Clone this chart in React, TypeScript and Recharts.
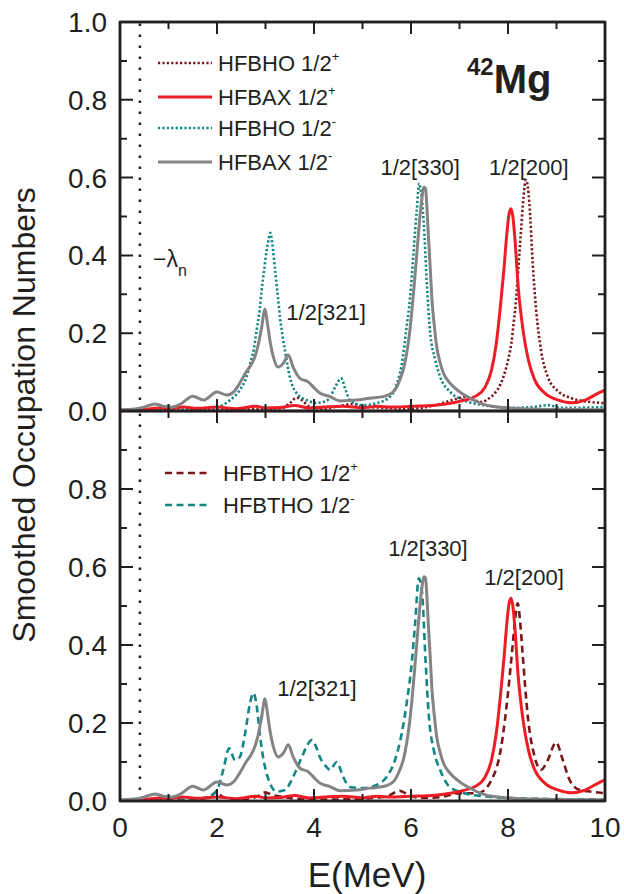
import React from 'react';
import { LineChart, Line, XAxis, YAxis, ReferenceLine, ReferenceDot, Legend } from 'recharts';

const FONT = '"Liberation Sans", Arial, Helvetica, sans-serif';
const INK = '#231f20';
const W = 624;
const H = 894;

const COLORS = { darkRed: '#7a171b', teal: '#128585', red: '#ee1d25', gray: '#848484' };

// ---------- axes / ticks ----------
const xTicks = [0, 1, 2, 3, 4, 5, 6, 7, 8, 9, 10];
const yTicksTop = [0, 0.1, 0.2, 0.3, 0.4, 0.5, 0.6, 0.7, 0.8, 0.9, 1.0];
const yTicksBottom = [0, 0.1, 0.2, 0.3, 0.4, 0.5, 0.6, 0.7, 0.8, 0.9];
const yInnerTicks = [0.1, 0.2, 0.3, 0.4, 0.5, 0.6, 0.7, 0.8, 0.9];
const xInnerTicks = [1, 2, 3, 4, 5, 6, 7, 8, 9];
const LAMBDA_N = 0.41;

// ---------- data ----------
// HFBAX 1/2- (gray solid, both panels)
const axMinusE = [0, 0.3, 0.5, 0.72, 0.9, 1.05, 1.25, 1.5, 1.72, 2.0, 2.2, 2.35, 2.47, 2.6, 2.7, 2.78, 2.85, 2.92, 2.99, 3.04, 3.1, 3.16, 3.26, 3.37, 3.47, 3.57, 3.71, 3.88, 4.0, 4.12, 4.33, 4.54, 4.88, 5.15, 5.43, 5.64, 5.77, 5.85, 5.91, 5.97, 6.02, 6.07, 6.12, 6.17, 6.22, 6.27, 6.3, 6.33, 6.36, 6.4, 6.43, 6.48, 6.53, 6.6, 6.67, 6.78, 6.88, 7.05, 7.22, 7.5, 8.0, 9.0, 10.0];
const axMinusV = [0.003, 0.005, 0.01, 0.018, 0.012, 0.01, 0.018, 0.038, 0.028, 0.049, 0.041, 0.05, 0.072, 0.1, 0.118, 0.139, 0.17, 0.215, 0.262, 0.225, 0.175, 0.14, 0.113, 0.123, 0.144, 0.113, 0.084, 0.075, 0.06, 0.046, 0.037, 0.026, 0.028, 0.033, 0.037, 0.05, 0.08, 0.11, 0.148, 0.2, 0.26, 0.33, 0.405, 0.48, 0.542, 0.575, 0.572, 0.52, 0.447, 0.36, 0.29, 0.22, 0.165, 0.125, 0.097, 0.075, 0.062, 0.045, 0.033, 0.017, 0.008, 0.004, 0.003];

// HFBAX 1/2+ (red solid, both panels)
const axPlusE = [0, 0.5, 0.8, 1.0, 1.3, 1.6, 2.0, 2.4, 2.8, 3.0, 3.3, 3.6, 3.9, 4.2, 4.6, 5.0, 5.3, 5.6, 6.0, 6.5, 6.9, 7.11, 7.32, 7.53, 7.66, 7.76, 7.86, 7.92, 7.97, 8.02, 8.06, 8.1, 8.14, 8.21, 8.31, 8.42, 8.55, 8.76, 9.04, 9.31, 9.59, 9.86, 10.0];
const axPlusV = [0.002, 0.004, 0.008, 0.006, 0.01, 0.007, 0.01, 0.006, 0.012, 0.008, 0.009, 0.014, 0.008, 0.01, 0.012, 0.008, 0.012, 0.01, 0.012, 0.015, 0.022, 0.028, 0.037, 0.062, 0.105, 0.175, 0.29, 0.37, 0.447, 0.505, 0.52, 0.5, 0.447, 0.32, 0.208, 0.131, 0.08, 0.046, 0.028, 0.021, 0.028, 0.046, 0.054];

// HFBHO 1/2- (teal dotted, top)
const hoMinusE = [0, 1.0, 1.5, 2.0, 2.27, 2.47, 2.6, 2.68, 2.76, 2.82, 2.88, 2.92, 2.97, 3.02, 3.07, 3.1, 3.14, 3.2, 3.25, 3.3, 3.35, 3.4, 3.5, 3.64, 3.85, 4.05, 4.26, 4.33, 4.45, 4.56, 4.65, 4.74, 5.02, 5.29, 5.57, 5.71, 5.81, 5.91, 5.98, 6.05, 6.12, 6.17, 6.21, 6.26, 6.33, 6.39, 6.5, 6.6, 6.8, 7.08, 7.5, 8.0, 8.5, 8.82, 9.1, 10.0];
const hoMinusV = [0.002, 0.004, 0.006, 0.01, 0.028, 0.054, 0.085, 0.12, 0.16, 0.21, 0.26, 0.31, 0.36, 0.41, 0.445, 0.458, 0.43, 0.36, 0.3, 0.24, 0.195, 0.157, 0.088, 0.046, 0.028, 0.021, 0.026, 0.036, 0.065, 0.084, 0.055, 0.028, 0.015, 0.02, 0.037, 0.07, 0.12, 0.217, 0.29, 0.405, 0.517, 0.585, 0.56, 0.49, 0.32, 0.208, 0.131, 0.088, 0.05, 0.028, 0.015, 0.008, 0.01, 0.015, 0.008, 0.01];

// HFBHO 1/2+ (dark red dotted, top)
const hoPlusE = [0, 2.0, 3.0, 3.35, 3.5, 3.64, 3.75, 3.9, 4.2, 4.5, 4.8, 5.0, 5.5, 6.0, 6.5, 6.9, 7.11, 7.3, 7.46, 7.6, 7.73, 7.85, 7.93, 8.0, 8.07, 8.12, 8.17, 8.22, 8.27, 8.32, 8.37, 8.41, 8.44, 8.51, 8.58, 8.68, 8.82, 9.04, 9.31, 9.72, 10.0];
const hoPlusV = [0.001, 0.003, 0.005, 0.008, 0.02, 0.034, 0.028, 0.012, 0.006, 0.012, 0.018, 0.012, 0.008, 0.006, 0.015, 0.03, 0.036, 0.028, 0.023, 0.032, 0.046, 0.07, 0.097, 0.13, 0.175, 0.23, 0.29, 0.38, 0.465, 0.55, 0.594, 0.575, 0.535, 0.38, 0.26, 0.157, 0.088, 0.05, 0.033, 0.023, 0.02];

// HFBTHO 1/2- (teal dashed, bottom)
const thoMinusE = [0, 1.0, 1.5, 1.8, 2.0, 2.13, 2.25, 2.37, 2.47, 2.58, 2.68, 2.75, 2.82, 2.89, 2.99, 3.09, 3.23, 3.4, 3.57, 3.75, 3.87, 3.95, 4.04, 4.12, 4.26, 4.33, 4.47, 4.6, 4.74, 5.02, 5.29, 5.5, 5.67, 5.81, 5.91, 6.02, 6.09, 6.16, 6.2, 6.23, 6.3, 6.37, 6.47, 6.6, 6.8, 7.1, 7.5, 8.0, 9.0, 10.0];
const thoMinusV = [0.002, 0.003, 0.005, 0.01, 0.028, 0.08, 0.135, 0.105, 0.113, 0.173, 0.25, 0.277, 0.242, 0.164, 0.087, 0.046, 0.024, 0.028, 0.062, 0.113, 0.145, 0.156, 0.14, 0.113, 0.087, 0.08, 0.1, 0.062, 0.036, 0.033, 0.041, 0.062, 0.105, 0.174, 0.25, 0.36, 0.464, 0.571, 0.56, 0.533, 0.36, 0.215, 0.13, 0.08, 0.036, 0.02, 0.012, 0.008, 0.005, 0.004];

// HFBTHO 1/2+ (dark red dashed, bottom)
const thoPlusE = [0, 1.5, 1.85, 2.0, 2.1, 2.4, 2.8, 2.99, 3.15, 3.4, 3.6, 4.0, 4.5, 5.0, 5.5, 5.77, 5.95, 6.2, 6.6, 7.0, 7.38, 7.66, 7.86, 8.0, 8.1, 8.15, 8.2, 8.25, 8.3, 8.41, 8.55, 8.68, 8.82, 8.99, 9.13, 9.27, 9.48, 9.72, 10.0];
const thoPlusV = [0.001, 0.003, 0.01, 0.024, 0.012, 0.004, 0.01, 0.022, 0.015, 0.01, 0.006, 0.004, 0.004, 0.006, 0.012, 0.026, 0.015, 0.008, 0.01, 0.02, 0.02, 0.054, 0.139, 0.277, 0.405, 0.47, 0.507, 0.46, 0.38, 0.215, 0.113, 0.08, 0.105, 0.15, 0.105, 0.054, 0.028, 0.024, 0.02];

const toPts = (es: number[], vs: number[]) => es.map((e, i) => ({ e, v: vs[i] }));

const axMinus = toPts(axMinusE, axMinusV);
const axPlus = toPts(axPlusE, axPlusV);
const hoMinus = toPts(hoMinusE, hoMinusV);
const hoPlus = toPts(hoPlusE, hoPlusV);
const thoMinus = toPts(thoMinusE, thoMinusV);
const thoPlus = toPts(thoPlusE, thoPlusV);

// ---------- labels ----------
const topLegendNames = ['HFBHO 1/2', 'HFBAX 1/2', 'HFBHO 1/2', 'HFBAX 1/2'];
const topLegendSups = ['+', '+', '-', '-'];
const bottomLegendNames = ['HFBTHO 1/2', 'HFBTHO 1/2'];
const bottomLegendSups = ['+', '-'];

const topAnnotations = [
  { e: 4.25, v: 0.255, text: '1/2[321]' },
  { e: 6.19, v: 0.627, text: '1/2[330]' },
  { e: 8.43, v: 0.627, text: '1/2[200]' },
];
const bottomAnnotations = [
  { e: 4.06, v: 0.29, text: '1/2[321]' },
  { e: 6.35, v: 0.649, text: '1/2[330]' },
  { e: 8.33, v: 0.574, text: '1/2[200]' },
];

// ---------- styles ----------
const STY = {
  hoPlus: { stroke: COLORS.darkRed, strokeWidth: 2.6, strokeDasharray: '2.2 2.2' },
  axPlus: { stroke: COLORS.red, strokeWidth: 3, strokeDasharray: undefined as any },
  hoMinus: { stroke: COLORS.teal, strokeWidth: 2.6, strokeDasharray: '2.2 2.2' },
  axMinus: { stroke: COLORS.gray, strokeWidth: 3, strokeDasharray: undefined as any },
  thoPlus: { stroke: COLORS.darkRed, strokeWidth: 2.6, strokeDasharray: '7 4.5' },
  thoMinus: { stroke: COLORS.teal, strokeWidth: 2.6, strokeDasharray: '7 4.5' },
};

// plot-area layout (matches chart margins below)
const PX = { left: 120, right: 605, top: 22, mid: 411, bottom: 801 };

const yMajor = (v: number) => Math.round(v * 10) % 2 === 0;
const xMajor = (v: number) => Math.round(v) % 2 === 0;

const LeftTickLabel = (p: any) => {
  const v = p.payload.value as number;
  if (!yMajor(v)) return <g />;
  return (
    <text x={Number(p.x) - 13} y={Number(p.y)} dy="0.36em" textAnchor="end" fontSize={28} fontFamily={FONT} fill={INK}>
      {v.toFixed(1)}
    </text>
  );
};
const BottomTickLabel = (p: any) => {
  const v = p.payload.value as number;
  if (!xMajor(v)) return <g />;
  return (
    <text x={Number(p.x)} y={Number(p.y) + 36} textAnchor="middle" fontSize={28} fontFamily={FONT} fill={INK}>
      {String(v)}
    </text>
  );
};

const XTitleLabel = {
  content: () => (
    <text x={367} y={487} textAnchor="middle" fontSize={35} fontFamily={FONT} fill={INK}>
      E(MeV)
    </text>
  ),
};

function LegendBox(props: { names: string[]; sups: string[]; styles: any[]; x1: number; x2: number; tx: number; rows: number[]; w: number; h: number }) {
  const { names, sups, styles, x1, x2, tx, rows, w, h } = props;
  return (
    <svg width={w} height={h} style={{ display: 'block', overflow: 'visible' }}>
      {names.map((n, i) => (
        <g key={i}>
          <line x1={x1} x2={x2} y1={rows[i]} y2={rows[i]} stroke={styles[i].stroke} strokeWidth={styles[i].strokeWidth} strokeDasharray={styles[i].strokeDasharray} />
          <text x={tx} y={rows[i]} dy="0.36em" fontSize={22} fontFamily={FONT} fill={INK}>
            {n}
            <tspan dy={-10} fontSize={13}>{sups[i]}</tspan>
          </text>
        </g>
      ))}
    </svg>
  );
}
const TopLegend = () => (
  <LegendBox names={topLegendNames} sups={topLegendSups} styles={[STY.hoPlus, STY.axPlus, STY.hoMinus, STY.axMinus]} x1={8} x2={62} tx={68} rows={[23, 57, 88, 122]} w={240} h={150} />
);
const BottomLegend = () => (
  <LegendBox names={bottomLegendNames} sups={bottomLegendSups} styles={[STY.thoPlus, STY.thoMinus]} x1={15} x2={57} tx={73} rows={[23, 55]} w={240} h={80} />
);
const topLegendStyle = { position: 'absolute' as const, left: 150, top: 40, width: 240, height: 150 };
const bottomLegendStyle = { position: 'absolute' as const, left: 150, top: 50, width: 240, height: 80 };

const annShape = (text: string) => (p: any) => (
  <text x={p.cx} y={p.cy} dy="0.35em" textAnchor="middle" fontSize={22} fontFamily={FONT} fill={INK}>
    {text}
  </text>
);
const topAnnShapes = topAnnotations.map((a) => annShape(a.text));
const bottomAnnShapes = bottomAnnotations.map((a) => annShape(a.text));
const LambdaShape = (p: any) => (
  <text x={p.cx} y={p.cy} fontSize={23} fontFamily={FONT} fill={INK}>
    −λ<tspan dy={9} fontSize={16}>n</tspan>
  </text>
);
const TitleShape = (p: any) => (
  <text x={p.cx} y={p.cy} fontWeight="bold" fontFamily={FONT} fill={INK}>
    <tspan fontSize={24}>42</tspan>
    <tspan fontSize={40} dy={18}>Mg</tspan>
  </text>
);

const series = (data: any[], s: any, key: string) => (
  <Line
    key={key}
    data={data}
    dataKey="v"
    type="monotone"
    stroke={s.stroke}
    strokeWidth={s.strokeWidth}
    strokeDasharray={s.strokeDasharray}
    dot={false}
    activeDot={false}
    isAnimationActive={false}
  />
);

// frame & inward tick marks (axis decoration) in an overlay aligned with the plot area
function buildTickPath(): string {
  const pw = PX.right - PX.left;
  const xp = (e: number) => PX.left + (e / 10) * pw;
  const yTop = (v: number) => PX.mid - v * (PX.mid - PX.top);
  const yBot = (v: number) => PX.bottom - v * (PX.bottom - PX.mid);
  let d = '';
  for (const v of yInnerTicks) {
    const L = yMajor(v) ? 13 : 7;
    for (const y of [yTop(v), yBot(v)]) {
      d += `M${PX.left},${y}H${PX.left + L}M${PX.right - L},${y}H${PX.right}`;
    }
  }
  for (const e of xInnerTicks) {
    const L = xMajor(e) ? 12 : 7;
    const x = xp(e);
    d += `M${x},${PX.top}V${PX.top + L}`;
    d += `M${x},${PX.mid}V${PX.mid - L}`;
    d += `M${x},${PX.mid}V${PX.mid + L}`;
    d += `M${x},${PX.bottom}V${PX.bottom - L}`;
  }
  return d;
}
const TICK_PATH = buildTickPath();

export default function App() {
  return (
    <div style={{ position: 'absolute', left: 0, top: 0, width: W, height: H, background: '#fff' }}>
      {/* Top panel: plot x 120..605, y 22..411 */}
      <div style={{ position: 'absolute', left: 0, top: 0 }}>
        <LineChart width={W} height={430} margin={{ top: 21, right: 18, bottom: 18, left: 0 }}>
          <XAxis xAxisId={0} type="number" dataKey="e" domain={[0, 10]} ticks={xTicks} interval={0} height={1} tickSize={0} tickMargin={0} tickLine={false} tick={false} stroke={INK} axisLine={{ stroke: INK, strokeWidth: 2.5 }} />
          <XAxis xAxisId="top" orientation="top" type="number" dataKey="e" domain={[0, 10]} ticks={xTicks} height={1} tick={false} tickLine={false} stroke={INK} axisLine={{ stroke: INK, strokeWidth: 2.5 }} />
          <YAxis yAxisId={0} type="number" domain={[0, 1]} ticks={yTicksTop} interval={0} width={120} tickSize={0} tickMargin={0} tickLine={false} tick={LeftTickLabel} stroke={INK} axisLine={{ stroke: INK, strokeWidth: 2.5 }} />
          <YAxis yAxisId="right" orientation="right" type="number" domain={[0, 1]} ticks={yTicksTop} width={1} tick={false} tickLine={false} stroke={INK} axisLine={{ stroke: INK, strokeWidth: 2.5 }} />
          <ReferenceLine x={LAMBDA_N} stroke={INK} strokeWidth={2.5} strokeDasharray="2.5 8.5" />
          {series(hoPlus, STY.hoPlus, 'hoPlus')}
          {series(hoMinus, STY.hoMinus, 'hoMinus')}
          {series(axPlus, STY.axPlus, 'axPlusT')}
          {series(axMinus, STY.axMinus, 'axMinusT')}
          {topAnnotations.map((a, i) => (
            <ReferenceDot key={i} x={a.e} y={a.v} r={0} shape={topAnnShapes[i]} />
          ))}
          <ReferenceDot x={0.68} y={0.37} r={0} shape={LambdaShape} />
          <ReferenceDot x={7.155} y={0.864} r={0} shape={TitleShape} />
          <Legend layout="horizontal" verticalAlign="middle" align="center" wrapperStyle={topLegendStyle} content={TopLegend} />
        </LineChart>
      </div>

      {/* Bottom panel: plot x 120..605, y 411..801 */}
      <div style={{ position: 'absolute', left: 0, top: 400 }}>
        <LineChart width={W} height={494} margin={{ top: 10, right: 18, bottom: 0, left: 0 }}>
          <XAxis xAxisId={0} type="number" dataKey="e" domain={[0, 10]} ticks={xTicks} interval={0} height={93} tickSize={0} tickMargin={0} tickLine={false} tick={BottomTickLabel} stroke={INK} axisLine={{ stroke: INK, strokeWidth: 2.5 }} label={XTitleLabel} />
          <XAxis xAxisId="top" orientation="top" type="number" dataKey="e" domain={[0, 10]} ticks={xTicks} height={1} tick={false} tickLine={false} stroke={INK} axisLine={{ stroke: INK, strokeWidth: 2.5 }} />
          <YAxis yAxisId={0} type="number" domain={[0, 1]} ticks={yTicksBottom} interval={0} width={120} tickSize={0} tickMargin={0} tickLine={false} tick={LeftTickLabel} stroke={INK} axisLine={{ stroke: INK, strokeWidth: 2.5 }} />
          <YAxis yAxisId="right" orientation="right" type="number" domain={[0, 1]} ticks={yTicksBottom} width={1} tick={false} tickLine={false} stroke={INK} axisLine={{ stroke: INK, strokeWidth: 2.5 }} />
          <ReferenceLine x={LAMBDA_N} stroke={INK} strokeWidth={2.5} strokeDasharray="2.5 8.5" />
          {series(thoPlus, STY.thoPlus, 'thoPlus')}
          {series(thoMinus, STY.thoMinus, 'thoMinus')}
          {series(axPlus, STY.axPlus, 'axPlusB')}
          {series(axMinus, STY.axMinus, 'axMinusB')}
          {bottomAnnotations.map((a, i) => (
            <ReferenceDot key={i} x={a.e} y={a.v} r={0} shape={bottomAnnShapes[i]} />
          ))}
          <Legend layout="horizontal" verticalAlign="middle" align="center" wrapperStyle={bottomLegendStyle} content={BottomLegend} />
        </LineChart>
      </div>

      {/* frame, tick marks and shared y-axis title */}
      <svg width={W} height={H} style={{ position: 'absolute', left: 0, top: 0, pointerEvents: 'none' }}>
        <rect x={PX.left} y={PX.top} width={PX.right - PX.left} height={PX.bottom - PX.top} fill="none" stroke={INK} strokeWidth={2.5} />
        <line x1={PX.left} x2={PX.right} y1={PX.mid} y2={PX.mid} stroke={INK} strokeWidth={2.5} />
        <path d={TICK_PATH} stroke={INK} strokeWidth={2} fill="none" />
        <text transform="rotate(-90 35 415)" x={35} y={415} textAnchor="middle" fontSize={32} fontFamily={FONT} fill={INK}>
          Smoothed Occupation Numbers
        </text>
      </svg>
    </div>
  );
}
